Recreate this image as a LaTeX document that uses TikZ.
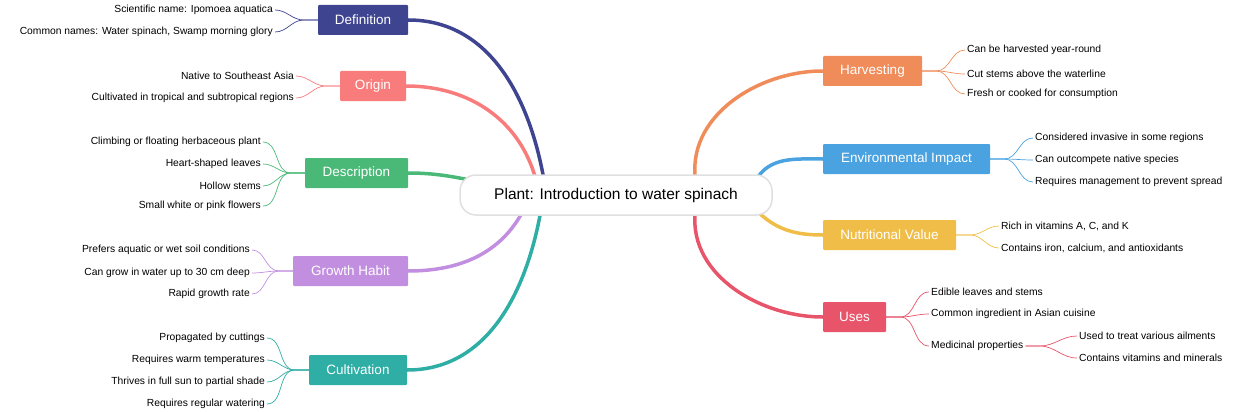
\documentclass[tikz,border=0pt]{standalone}
\usepackage{fontspec}
\setmainfont{Liberation Sans}
\usetikzlibrary{calc}
\definecolor{cDef}{HTML}{3F4491}
\definecolor{cOri}{HTML}{F87C7C}
\definecolor{cDes}{HTML}{4AB977}
\definecolor{cGro}{HTML}{C28FE0}
\definecolor{cCul}{HTML}{2EAEA4}
\definecolor{cHar}{HTML}{F08C5A}
\definecolor{cEnv}{HTML}{4AA3E0}
\definecolor{cNut}{HTML}{F0BE48}
\definecolor{cUse}{HTML}{E8546A}
\begin{document}
\begin{tikzpicture}[x=1pt,y=-1pt,
  br/.style={fill=#1,text=white,font=\fontsize{13.5}{15}\selectfont,minimum height=30,inner xsep=4,rounded corners=1},
  lf/.style={font=\fontsize{10.3}{12}\selectfont,inner sep=2},
  lr/.style={lf,anchor=east},
  ll/.style={lf,anchor=west},
  mainc/.style={line width=3.5,#1},
  leafc/.style={line width=0.7,#1}]
\useasboundingbox (0,0) rectangle (1240,412);
% center and branches
\node[br=cDef,minimum width=90] (def) at (363,20) {Definition};
\node[br=cOri,minimum width=66] (ori) at (373,86) {Origin};
\node[br=cDes,minimum width=103] (des) at (356.5,173) {Description};
\node[br=cGro,minimum width=115] (gro) at (350.5,271) {Growth Habit};
\node[br=cCul,minimum width=98] (cul) at (358,370) {Cultivation};
\node[br=cHar,minimum width=99] (har) at (872.5,71) {Harvesting};
\node[br=cEnv,minimum width=167] (env) at (906.5,159) {Environmental Impact};
\node[br=cNut,minimum width=133] (nut) at (889.5,235) {Nutritional Value};
\node[br=cUse,minimum width=63] (use) at (854.5,317) {Uses};
\coordinate (c) at (616,195);
\draw[mainc=cDef] ($(c)+(-72,-15)$) to[out=100,in=0] (def.east);
\draw[mainc=cOri] ($(c)+(-80,-15)$) to[out=105,in=0] (ori.east);
\draw[mainc=cDes] ($(c)+(-120,-10)$) to[out=170,in=0] (des.east);
\draw[mainc=cGro] ($(c)+(-90,10)$) to[out=-115,in=0] (gro.east);
\draw[mainc=cCul] ($(c)+(-75,15)$) to[out=-100,in=0] (cul.east);
\draw[mainc=cHar] ($(c)+(80,-12)$) to[out=100,in=180] (har.west);
\draw[mainc=cEnv] ($(c)+(140,-15)$) to[out=60,in=180] (env.west);
\draw[mainc=cNut] ($(c)+(140,15)$) to[out=-45,in=180] (nut.west);
\draw[mainc=cUse] ($(c)+(80,12)$) to[out=-100,in=180] (use.west);
\node[draw=black!12,line width=1.5,fill=white,rounded corners=16,minimum width=312,minimum height=40,font=\fontsize{15.5}{19}\selectfont] (ctr) at (c) {Plant: Introduction to water spinach};
% leaves left
\node[lr] (d1) at (275,10) {Scientific name: Ipomoea aquatica};
\node[lr] (d2) at (275,32) {Common names: Water spinach, Swamp morning glory};
\foreach \n in {d1,d2} \draw[leafc=cDef] (def.west) -- ++(-14,0) to[out=180,in=0] (\n.east);
\node[lr] (o1) at (296,76) {Native to Southeast Asia};
\node[lr] (o2) at (296,98) {Cultivated in tropical and subtropical regions};
\foreach \n in {o1,o2} \draw[leafc=cOri] (ori.west) -- ++(-14,0) to[out=180,in=0] (\n.east);
\node[lr] (e1) at (263,142) {Climbing or floating herbaceous plant};
\node[lr] (e2) at (263,164) {Heart-shaped leaves};
\node[lr] (e3) at (263,186) {Hollow stems};
\node[lr] (e4) at (263,206) {Small white or pink flowers};
\foreach \n in {e1,e2,e3,e4} \draw[leafc=cDes] (des.west) -- ++(-14,0) to[out=180,in=0] (\n.east);
\node[lr] (g1) at (252,250) {Prefers aquatic or wet soil conditions};
\node[lr] (g2) at (252,273) {Can grow in water up to 30 cm deep};
\node[lr] (g3) at (252,294) {Rapid growth rate};
\foreach \n in {g1,g2,g3} \draw[leafc=cGro] (gro.west) -- ++(-14,0) to[out=180,in=0] (\n.east);
\node[lr] (k1) at (267,338) {Propagated by cuttings};
\node[lr] (k2) at (267,360) {Requires warm temperatures};
\node[lr] (k3) at (267,382) {Thrives in full sun to partial shade};
\node[lr] (k4) at (267,404) {Requires regular watering};
\foreach \n in {k1,k2,k3,k4} \draw[leafc=cCul] (cul.west) -- ++(-14,0) to[out=180,in=0] (\n.east);
% leaves right
\node[ll] (h1) at (965,50) {Can be harvested year-round};
\node[ll] (h2) at (965,74) {Cut stems above the waterline};
\node[ll] (h3) at (965,94) {Fresh or cooked for consumption};
\foreach \n in {h1,h2,h3} \draw[leafc=cHar] (har.east) -- ++(14,0) to[out=0,in=180] (\n.west);
\node[ll] (v1) at (1033,138) {Considered invasive in some regions};
\node[ll] (v2) at (1033,160) {Can outcompete native species};
\node[ll] (v3) at (1033,182) {Requires management to prevent spread};
\foreach \n in {v1,v2,v3} \draw[leafc=cEnv] (env.east) -- ++(14,0) to[out=0,in=180] (\n.west);
\node[ll] (n1) at (999,226) {Rich in vitamins A, C, and K};
\node[ll] (n2) at (999,248) {Contains iron, calcium, and antioxidants};
\foreach \n in {n1,n2} \draw[leafc=cNut] (nut.east) -- ++(14,0) to[out=0,in=180] (\n.west);
\node[ll] (u1) at (929,292) {Edible leaves and stems};
\node[ll] (u2) at (929,314) {Common ingredient in Asian cuisine};
\node[ll] (u3) at (929,346) {Medicinal properties};
\foreach \n in {u1,u2,u3} \draw[leafc=cUse] (use.east) -- ++(14,0) to[out=0,in=180] (\n.west);
\node[ll] (m1) at (1077,336) {Used to treat various ailments};
\node[ll] (m2) at (1077,358) {Contains vitamins and minerals};
\foreach \n in {m1,m2} \draw[leafc=cUse] (u3.east) -- ++(14,0) to[out=0,in=180] (\n.west);
\end{tikzpicture}
\end{document}
